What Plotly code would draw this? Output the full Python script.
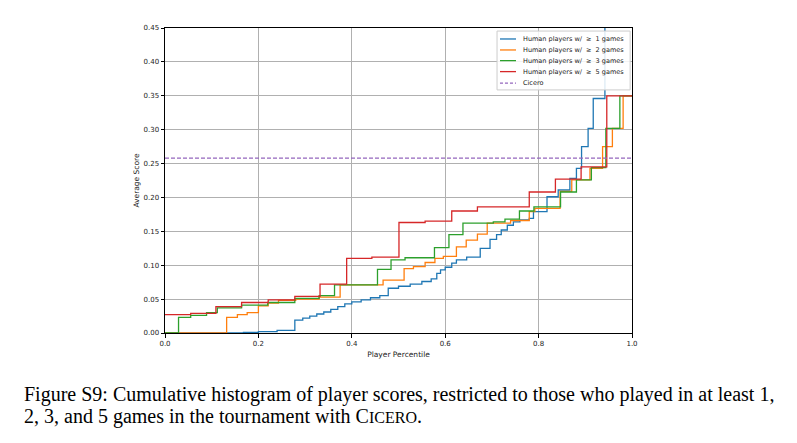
import plotly.graph_objects as go

# ---- data ----
red_x = [0, 0.055, 0.109, 0.164, 0.221, 0.278, 0.332, 0.389, 0.443, 0.501, 0.557, 0.614, 0.669, 0.780, 0.836, 0.891, 0.946, 1.0]
red_y = [0.027, 0.029, 0.039, 0.045, 0.049, 0.054, 0.072, 0.110, 0.112, 0.163, 0.165, 0.180, 0.186, 0.208, 0.227, 0.245, 0.350, 0.350]

green_x = [0, 0.029, 0.055, 0.089, 0.112, 0.164, 0.220, 0.278, 0.330, 0.363, 0.455, 0.484, 0.514, 0.577, 0.608, 0.638, 0.703, 0.728, 0.759, 0.790, 0.847, 0.881, 0.913, 0.944, 0.974, 1.0]
green_y = [0.0, 0.023, 0.026, 0.030, 0.037, 0.041, 0.045, 0.051, 0.055, 0.071, 0.094, 0.108, 0.111, 0.126, 0.145, 0.162, 0.164, 0.168, 0.180, 0.186, 0.208, 0.226, 0.244, 0.302, 0.350, 0.350]

orange_x = [0, 0.132, 0.155, 0.176, 0.200, 0.221, 0.243, 0.280, 0.330, 0.375, 0.467, 0.512, 0.532, 0.557, 0.578, 0.596, 0.624, 0.645, 0.669, 0.690, 0.740, 0.780, 0.792, 0.846, 0.871, 0.910, 0.937, 0.958, 0.981, 1.0]
orange_y = [0.0, 0.023, 0.027, 0.030, 0.040, 0.044, 0.048, 0.050, 0.053, 0.071, 0.078, 0.095, 0.098, 0.104, 0.110, 0.113, 0.127, 0.137, 0.146, 0.162, 0.166, 0.179, 0.184, 0.209, 0.226, 0.243, 0.275, 0.302, 0.350, 0.350]

blue_x = [0, 0.168, 0.200, 0.240, 0.278, 0.295, 0.310, 0.325, 0.340, 0.355, 0.370, 0.385, 0.400, 0.420, 0.440, 0.460, 0.478, 0.500, 0.525, 0.550, 0.570, 0.582, 0.590, 0.600, 0.614, 0.624, 0.646, 0.675, 0.696, 0.710, 0.720, 0.733, 0.746, 0.760, 0.780, 0.789, 0.818, 0.842, 0.867, 0.881, 0.892, 0.906, 0.917, 0.942, 1.0]
blue_y = [0.0, 0.001, 0.002, 0.004, 0.019, 0.022, 0.025, 0.028, 0.031, 0.035, 0.039, 0.043, 0.046, 0.049, 0.052, 0.055, 0.066, 0.069, 0.072, 0.076, 0.080, 0.088, 0.093, 0.097, 0.103, 0.108, 0.112, 0.125, 0.138, 0.145, 0.152, 0.159, 0.164, 0.167, 0.169, 0.179, 0.201, 0.211, 0.228, 0.243, 0.275, 0.302, 0.346, 0.600, 0.600]

cicero_score = 0.258

series_names = ["Human players w/  \u2265  1 games", "Human players w/  \u2265  2 games",
                "Human players w/  \u2265  3 games", "Human players w/  \u2265  5 games"]
colors = ["#1f77b4", "#ff7f0e", "#2ca02c", "#d62728"]
cicero_name = "Cicero"
cicero_color = "#9467bd"

x_ticks = [0.0, 0.2, 0.4, 0.6, 0.8, 1.0]
y_ticks = [0.0, 0.05, 0.10, 0.15, 0.20, 0.25, 0.30, 0.35, 0.40, 0.45]

caption_lines = [
    "Figure S9: Cumulative histogram of player scores, restricted to those who played in at least 1,",
    "2, 3, and 5 games in the tournament with C<span style='font-size:16px'>ICERO</span>.",
]

fig = go.Figure()
for xs, ys, name, c in zip([blue_x, orange_x, green_x, red_x], [blue_y, orange_y, green_y, red_y], series_names, colors):
    fig.add_trace(go.Scatter(x=xs, y=ys, mode="lines", line=dict(color=c, width=1.3, shape="hv"),
                             name=name, showlegend=False))

fig.add_trace(go.Scatter(x=[0, 1], y=[cicero_score, cicero_score], mode="lines",
                         line=dict(color=cicero_color, width=1.1, dash="4px,2px"), name=cicero_name,
                         showlegend=False))

axis_common = dict(showgrid=True, gridcolor="#b0b0b0", gridwidth=1, showline=True, linecolor="black",
                   linewidth=1, mirror=True, ticks="outside", ticklen=3.5, tickcolor="black",
                   tickfont=dict(family="DejaVu Sans", size=7, color="#222"), zeroline=False)

fig.update_xaxes(range=[0, 1], tickvals=x_ticks, ticktext=[f"{v:.1f}" for v in x_ticks],
                 title=dict(text="Player Percentile", font=dict(family="DejaVu Sans", size=7.5, color="#222"), standoff=4),
                 **axis_common)
fig.update_yaxes(range=[0, 0.45], tickvals=y_ticks, ticktext=[f"{v:.2f}" for v in y_ticks],
                 title=dict(text="Average Score", font=dict(family="DejaVu Sans", size=7.5, color="#222"), standoff=2),
                 **axis_common)

# ---- compact matplotlib-style legend (box + sample lines + text) ----
shapes = [dict(type="rect", xref="paper", yref="paper", x0=0.711, x1=0.996, y0=0.797, y1=0.990,
               fillcolor="rgba(255,255,255,0.85)", line=dict(color="#cccccc", width=1), layer="above")]
annotations = []
leg_names = series_names + [cicero_name]
leg_colors = colors + [cicero_color]
leg_dash = ["solid"] * 4 + ["3px,2px"]
leg_y = [0.964, 0.928, 0.893, 0.857, 0.819]
for name, c, d, yy in zip(leg_names, leg_colors, leg_dash, leg_y):
    shapes.append(dict(type="line", xref="paper", yref="paper", x0=0.7173, x1=0.7516, y0=yy, y1=yy,
                       line=dict(color=c, width=1.3, dash=d), layer="above"))
    annotations.append(dict(xref="paper", yref="paper", x=0.7623, y=yy, xanchor="left", yanchor="middle",
                            showarrow=False, text=name,
                            font=dict(family="DejaVu Sans", size=6.5, color="#222")))

for line, yy in zip(caption_lines, [-0.200, -0.2754]):
    annotations.append(dict(
        xref="paper", yref="paper", x=-0.306, y=yy, xanchor="left", yanchor="middle", align="left",
        showarrow=False, text=line,
        font=dict(family="Liberation Serif", size=20, color="black")))

fig.update_layout(
    width=797, height=443,
    margin=dict(l=165, r=165, t=28, b=110),
    plot_bgcolor="white", paper_bgcolor="white",
    showlegend=False,
    shapes=shapes,
    annotations=annotations,
)

fig.write_html("out.html")
